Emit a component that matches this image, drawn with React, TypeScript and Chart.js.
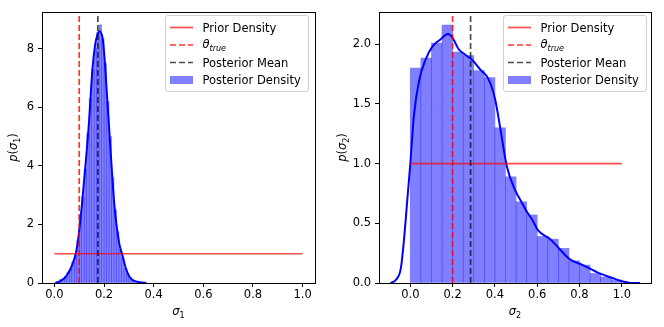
import React, { useEffect, useRef } from "react";
import { Chart, registerables } from "chart.js";
Chart.register(...registerables);

const FONT = "'DejaVu Sans', sans-serif";
const FS = 11.5;

// ---------- shared ----------
const xTickValues = [0, 0.2, 0.4, 0.6, 0.8, 1.0];
const priorX = [0, 1];
const priorY = [1, 1];

// ---------- panel 1 : sigma_1 ----------
const s1BinStart = 0.0;
const s1BinWidth = 0.01;
const s1Hist = [
  0.03, 0.06, 0.12, 0.15, 0.22, 0.36, 0.48, 0.72, 0.95, 1.45,
  2.3, 2.95, 3.9, 5.1, 6.3, 7.3, 8.0, 8.55, 8.82, 8.35,
  7.5, 6.2, 5.0, 3.6, 2.5, 1.75, 1.15, 0.85, 0.5, 0.3,
  0.18, 0.1, 0.06, 0.04, 0.03, 0.015, 0.01,
];
const s1KdeX = [
  0.005, 0.02, 0.035, 0.046, 0.056, 0.066, 0.077, 0.086, 0.097, 0.11,
  0.126, 0.14, 0.153, 0.164, 0.172, 0.182, 0.194, 0.2, 0.214, 0.227,
  0.241, 0.261, 0.274, 0.288, 0.3, 0.308, 0.32, 0.335, 0.35, 0.37,
];
const s1KdeY = [
  0, 0.05, 0.13, 0.22, 0.35, 0.5, 0.75, 1.0, 1.58, 2.6,
  4.1, 5.57, 7.28, 8.14, 8.45, 8.6, 8.37, 7.9, 6.14, 4.43,
  2.72, 1.36, 0.95, 0.5, 0.25, 0.16, 0.08, 0.04, 0.015, 0.005,
];
const s1True = 0.1;
const s1Mean = 0.175;
const s1YTicks = [0, 2, 4, 6, 8];

// ---------- panel 2 : sigma_2 ----------
const s2BinStart = 0.0;
const s2BinWidth = 0.05;
const s2Hist = [
  1.8, 1.885, 2.01, 2.16, 1.935, 1.905, 1.78, 1.72, 1.3, 0.89,
  0.68, 0.57, 0.39, 0.367, 0.29, 0.185, 0.15, 0.08, 0.05, 0.025,
];
const s2KdeX = [
  -0.093, -0.069, -0.045, -0.03, -0.014, 0, 0.017, 0.041, 0.072, 0.104,
  0.142, 0.178, 0.201, 0.228, 0.261, 0.292, 0.33, 0.369, 0.401, 0.425,
  0.456, 0.495, 0.519, 0.55, 0.58, 0.604, 0.659, 0.698, 0.753, 0.816,
  0.895, 0.958, 1.0, 1.05, 1.086,
];
const s2KdeY = [
  0, 0.025, 0.12, 0.36, 0.7, 1.0, 1.4, 1.69, 1.87, 1.98,
  2.04, 2.085, 2.05, 1.96, 1.91, 1.87, 1.79, 1.71, 1.54, 1.3,
  0.98, 0.78, 0.7, 0.6, 0.52, 0.44, 0.37, 0.3, 0.2, 0.15,
  0.08, 0.04, 0.015, 0, 0,
];
const s2True = 0.2;
const s2Mean = 0.285;
const s2YTicks = [0, 0.5, 1.0, 1.5, 2.0];

type Seg = { t: string; it?: boolean; sub?: boolean };

function segFont(s: Seg, size: number) {
  const sz = s.sub ? size * 0.7 : size;
  return `${s.it ? "italic " : ""}${sz}px ${FONT}`;
}

function drawRich(ctx: CanvasRenderingContext2D, segs: Seg[], x: number, y: number, size: number, align: "left" | "center") {
  let total = 0;
  for (const s of segs) {
    ctx.font = segFont(s, size);
    total += ctx.measureText(s.t).width;
  }
  let cx = align === "center" ? x - total / 2 : x;
  ctx.textAlign = "left";
  ctx.textBaseline = "alphabetic";
  for (const s of segs) {
    ctx.font = segFont(s, size);
    ctx.fillText(s.t, cx, y + (s.sub ? size * 0.22 : 0));
    cx += ctx.measureText(s.t).width;
  }
}

function roundRect(ctx: CanvasRenderingContext2D, x: number, y: number, w: number, h: number, r: number) {
  ctx.beginPath();
  ctx.moveTo(x + r, y);
  ctx.lineTo(x + w - r, y);
  ctx.arcTo(x + w, y, x + w, y + r, r);
  ctx.lineTo(x + w, y + h - r);
  ctx.arcTo(x + w, y + h, x + w - r, y + h, r);
  ctx.lineTo(x + r, y + h);
  ctx.arcTo(x, y + h, x, y + h - r, r);
  ctx.lineTo(x, y + r);
  ctx.arcTo(x, y, x + r, y, r);
  ctx.closePath();
}

const COL_PRIOR = "rgba(255,0,0,0.7)";
const COL_TRUE = "rgba(255,0,0,0.8)";
const COL_MEAN = "rgba(0,0,0,0.7)";
const COL_BAR = "rgba(0,0,255,0.5)";
const COL_KDE = "#0000ff";
const DASH = [6, 3];

interface PanelSpec {
  binStart: number;
  binWidth: number;
  hist: number[];
  kdeX: number[];
  kdeY: number[];
  trueVal: number;
  meanVal: number;
  xMin: number;
  xMax: number;
  yMax: number;
  yTicks: number[];
  yDec: number;
  yAxisWidth: number;
  padRight: number;
  sub: string;
  yTitleX: number;
  legendX: number;
}

function Panel({ spec, left }: { spec: PanelSpec; left: number }) {
  const ref = useRef<HTMLCanvasElement | null>(null);
  useEffect(() => {
    if (!ref.current) return;
    const s = spec;
    const bars = s.hist.map((v, i) => ({ x: s.binStart + (i + 0.5) * s.binWidth, y: v }));
    const kde = s.kdeX.map((x, i) => ({ x, y: s.kdeY[i] }));
    const prior = priorX.map((x, i) => ({ x, y: priorY[i] }));

    const overlay = {
      id: "overlay",
      afterDraw(chart: any) {
        const ctx: CanvasRenderingContext2D = chart.ctx;
        const a = chart.chartArea;
        ctx.save();
        ctx.strokeStyle = "#000";
        ctx.lineWidth = 1;
        ctx.strokeRect(Math.round(a.left) + 0.5, Math.round(a.top) + 0.5, Math.round(a.right - a.left), Math.round(a.bottom - a.top));
        ctx.fillStyle = "#000";
        drawRich(ctx, [{ t: "σ", it: true }, { t: s.sub, sub: true }], (a.left + a.right) / 2, 315, FS, "center");
        ctx.save();
        ctx.translate(s.yTitleX, (a.top + a.bottom) / 2);
        ctx.rotate(-Math.PI / 2);
        drawRich(ctx, [{ t: "p", it: true }, { t: "(" }, { t: "σ", it: true }, { t: s.sub, sub: true }, { t: ")" }], 0, 0, FS, "center");
        ctx.restore();
        // legend
        const bx = s.legendX, by = 15, bw = 143, bh = 76;
        roundRect(ctx, bx + 0.5, by + 0.5, bw, bh, 2.5);
        ctx.fillStyle = "rgba(255,255,255,0.8)";
        ctx.fill();
        ctx.strokeStyle = "rgba(204,204,204,0.9)";
        ctx.lineWidth = 1;
        ctx.stroke();
        const hx0 = bx + 5, hx1 = bx + 28, tx = bx + 37.5;
        const rows = [by + 12.5, by + 30, by + 47.5, by + 65];
        const line = (y: number, col: string, dash: number[]) => {
          ctx.beginPath();
          ctx.setLineDash(dash);
          ctx.strokeStyle = col;
          ctx.lineWidth = 1.7;
          ctx.moveTo(hx0, y);
          ctx.lineTo(hx1, y);
          ctx.stroke();
          ctx.setLineDash([]);
        };
        line(rows[0], COL_PRIOR, []);
        line(rows[1], COL_TRUE, DASH);
        line(rows[2], COL_MEAN, DASH);
        ctx.fillStyle = COL_BAR;
        ctx.fillRect(hx0, rows[3] - 4, hx1 - hx0, 8);
        ctx.fillStyle = "#000";
        drawRich(ctx, [{ t: "Prior Density" }], tx, rows[0] + 4, FS, "left");
        drawRich(ctx, [{ t: "θ", it: true }, { t: "true", it: true, sub: true }], tx, rows[1] + 3, FS, "left");
        drawRich(ctx, [{ t: "Posterior Mean" }], tx, rows[2] + 4, FS, "left");
        drawRich(ctx, [{ t: "Posterior Density" }], tx, rows[3] + 4, FS, "left");
        ctx.restore();
      },
    };

    const tickFont = { size: FS, family: FONT };
    const chart = new Chart(ref.current, {
      type: "bar",
      data: {
        datasets: [
          { type: "line", label: "Posterior Mean", data: [{ x: s.meanVal, y: 0 }, { x: s.meanVal, y: s.yMax }], borderColor: COL_MEAN, borderWidth: 1.7, borderDash: DASH, pointRadius: 0, order: 1 } as any,
          { type: "line", label: "θ true", data: [{ x: s.trueVal, y: 0 }, { x: s.trueVal, y: s.yMax }], borderColor: COL_TRUE, borderWidth: 1.7, borderDash: DASH, pointRadius: 0, order: 2 } as any,
          { type: "line", label: "Prior Density", data: prior, borderColor: COL_PRIOR, borderWidth: 1.7, pointRadius: 0, order: 3 } as any,
          { type: "line", label: "KDE", data: kde, borderColor: COL_KDE, borderWidth: 2, pointRadius: 0, cubicInterpolationMode: "monotone", order: 4 } as any,
          { type: "bar", label: "Posterior Density", data: bars, backgroundColor: COL_BAR, borderWidth: 0, barPercentage: 1, categoryPercentage: 1, order: 5 } as any,
        ],
      },
      options: {
        responsive: false,
        animation: false,
        devicePixelRatio: 1,
        layout: { padding: { left: 0, right: s.padRight, top: 12, bottom: 0 } },
        plugins: { legend: { display: false }, tooltip: { enabled: false } },
        scales: {
          x: {
            type: "linear",
            min: s.xMin,
            max: s.xMax,
            offset: false,
            afterBuildTicks: (sc: any) => { sc.ticks = xTickValues.map((v) => ({ value: v })); },
            afterFit: (sc: any) => { sc.height = 44; },
            ticks: { autoSkip: false, maxRotation: 0, color: "#000", font: tickFont, padding: 1, callback: (v: any) => Number(v).toFixed(1) },
            grid: { display: true, offset: false, drawOnChartArea: false, drawTicks: true, tickLength: 4, tickColor: "#000", tickWidth: 1 },
            border: { display: false },
          },
          y: {
            type: "linear",
            min: 0,
            max: s.yMax,
            afterBuildTicks: (sc: any) => { sc.ticks = s.yTicks.map((v) => ({ value: v })); },
            afterFit: (sc: any) => { sc.width = s.yAxisWidth; },
            ticks: { autoSkip: false, color: "#000", font: tickFont, padding: 4, callback: (v: any) => Number(v).toFixed(s.yDec) },
            grid: { display: true, offset: false, drawOnChartArea: false, drawTicks: true, tickLength: 4, tickColor: "#000", tickWidth: 1 },
            border: { display: false },
          },
        },
      } as any,
      plugins: [overlay],
    });
    return () => chart.destroy();
  }, [spec]);
  return <canvas ref={ref} width={332} height={327} style={{ position: "absolute", left, top: 0 }} />;
}

const spec1: PanelSpec = {
  binStart: s1BinStart, binWidth: s1BinWidth, hist: s1Hist, kdeX: s1KdeX, kdeY: s1KdeY,
  trueVal: s1True, meanVal: s1Mean, xMin: -0.05, xMax: 1.05, yMax: 9.26, yTicks: s1YTicks, yDec: 0,
  yAxisWidth: 42, padRight: 17, sub: "1", yTitleX: 17, legendX: 165,
};
const spec2: PanelSpec = {
  binStart: s2BinStart, binWidth: s2BinWidth, hist: s2Hist, kdeX: s2KdeX, kdeY: s2KdeY,
  trueVal: s2True, meanVal: s2Mean, xMin: -0.148, xMax: 1.138, yMax: 2.27, yTicks: s2YTicks, yDec: 1,
  yAxisWidth: 47, padRight: 13, sub: "2", yTitleX: 14, legendX: 171,
};

export default function App() {
  return (
    <div style={{ position: "fixed", left: 0, top: 0, width: 664, height: 327, background: "#fff", overflow: "hidden" }}>
      <Panel spec={spec1} left={0} />
      <Panel spec={spec2} left={332} />
    </div>
  );
}
